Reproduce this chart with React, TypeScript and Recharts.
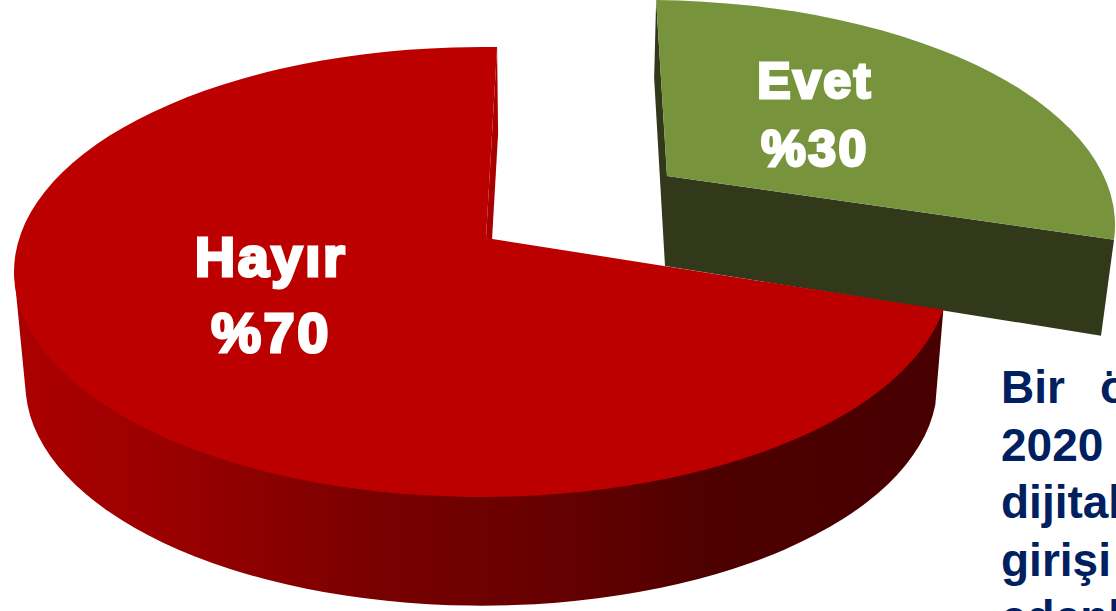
import React from "react";
import { PieChart, Pie, Cell } from "recharts";

// Data: Evet first so that Hayır's slice is painted on top of Evet's wall.
const categories = ["Evet", "Hayır"];
const percentages = [30, 70];
const percentLabels = ["%30", "%70"];
const faceColors = ["#77933C", "#BC0000"];
const noteLines = ["Bir", "2020", "dijital", "girişi", "edenl"];
const noteClippedWord = "ö";

const chartData = categories.map((name, i) => ({ name, value: percentages[i], pct: percentLabels[i] }));

// Projection of the circular pie onto the tilted plane
const WIDTH = 1116;
const HEIGHT = 611;
const CX = 482;
const CY = 272;
const R = 225;
const X_SCALE = 2.08;
const RX = R * X_SCALE;
const RY = R;

type Proj = {
  ox: number; oy: number; ax: number; ay: number;
  startFix: number; endFix: number;
  labelX: number; labelY1: number; labelY2: number; fontSize: number; spacing: number;
};

const PROJECTION: Record<string, Proj> = {
  "Hayır": { ox: 0, oy: 0, ax: 4, ay: -34, startFix: -1.6, endFix: -0.1, labelX: 271, labelY1: 276, labelY2: 352, fontSize: 56, spacing: 2.5 },
  "Evet": { ox: 165, oy: -47, ax: 185, ay: -96, startFix: 1.5, endFix: 1.7, labelX: 815, labelY1: 98, labelY2: 166, fontSize: 50, spacing: 2.5 },
};

function rim(p: Proj, deg: number) {
  const ex = CX + p.ox;
  const ey = CY + p.oy;
  const apx = (CX + p.ax - ex) / RX;
  const apy = (CY + p.ay - ey) / RY;
  const th = (deg * Math.PI) / 180;
  const dx = Math.cos(th);
  const dy = -Math.sin(th);
  const b = apx * dx + apy * dy;
  const c = apx * apx + apy * apy - 1;
  const t = -b + Math.sqrt(b * b - c);
  return { x: ex + (apx + t * dx) * RX, y: ey + (apy + t * dy) * RY };
}

function SliceShape(props: any) {
  const name = props.name ?? props.payload?.name;
  const p = PROJECTION[name];
  const a = { x: CX + p.ax, y: CY + p.ay };
  const s = rim(p, props.startAngle + p.startFix);
  const e = rim(p, props.endAngle + p.endFix);
  const large = Math.abs(props.endAngle - props.startAngle) > 180 ? 1 : 0;
  const face = `M${a.x},${a.y} L${s.x},${s.y} A${RX},${RY} 0 ${large} 0 ${e.x},${e.y} Z`;
  if (name === "Hayır") {
    const wall = `M${CX - RX},${CY} L${CX - RX + 12},${CY + 123} A456,222 0 0 0 ${e.x - 8},${e.y + 95} L${e.x},${e.y} Z`;
    const sliver = `M${s.x},${s.y} L${s.x + 1},${s.y + 87} L${a.x + 6},${a.y + 2} L${a.x},${a.y} Z`;
    return (
      <g>
        <path d={wall} fill="url(#redWall)" />
        <path d={sliver} fill="#A80000" />
        <path d={face} fill={props.fill} />
      </g>
    );
  }
  // Evet runs from the right-hand cut (s) round to the top-left cut (e)
  const wall = `M${e.x},${e.y} L${e.x - 2},${e.y + 78} L${a.x - 2},${a.y + 90} L${s.x - 13},${s.y + 96} L${s.x},${s.y} L${a.x},${a.y} Z`;
  return (
    <g>
      <path d={wall} fill="#31391A" />
      <path d={face} fill={props.fill} />
    </g>
  );
}

function SliceLabel(props: any) {
  const name = props.name ?? props.payload?.name;
  const p = PROJECTION[name];
  const pct = props.pct ?? props.payload?.pct;
  const common = {
    textAnchor: "middle" as const,
    fill: "#FFFFFF",
    stroke: "#FFFFFF",
    strokeWidth: 3,
    fontFamily: "'Liberation Sans', Arial, sans-serif",
    fontWeight: 700,
    fontSize: p.fontSize,
    letterSpacing: p.spacing,
  };
  return (
    <g>
      <text x={p.labelX} y={p.labelY1} {...common}>{name}</text>
      <text x={p.labelX} y={p.labelY2} {...common}>{pct}</text>
    </g>
  );
}

const NOTE_X = 1001;
const NOTE_FIRST_BASELINE = 403;
const NOTE_LINE_STEP = 57.5;

export default function App() {
  return (
    <div style={{ position: "absolute", left: 0, top: 0, width: WIDTH, height: HEIGHT, overflow: "hidden", background: "#FFFFFF" }}>
      <PieChart width={WIDTH} height={HEIGHT} margin={{ top: 0, right: 0, bottom: 0, left: 0 }}>
        <defs>
          <linearGradient id="redWall" gradientUnits="userSpaceOnUse" x1="14" y1="0" x2="943" y2="0">
            <stop offset="0" stopColor="#AC0000" />
            <stop offset="0.18" stopColor="#980000" />
            <stop offset="0.4" stopColor="#780000" />
            <stop offset="0.58" stopColor="#660000" />
            <stop offset="0.75" stopColor="#4E0000" />
            <stop offset="1" stopColor="#480000" />
          </linearGradient>
        </defs>
        <Pie
          data={chartData}
          dataKey="value"
          nameKey="name"
          cx={CX}
          cy={CY}
          outerRadius={R}
          startAngle={-18}
          endAngle={342}
          stroke="none"
          isAnimationActive={false}
          shape={SliceShape}
          label={SliceLabel}
          labelLine={false}
        >
          {chartData.map((d, i) => (
            <Cell key={d.name} fill={faceColors[i]} />
          ))}
        </Pie>
        <g fontFamily="'Liberation Sans', Arial, sans-serif" fontWeight={700} fontSize={46} fill="#002060">
          {noteLines.map((line, i) => (
            <text key={line} x={NOTE_X} y={NOTE_FIRST_BASELINE + i * NOTE_LINE_STEP}>{line}</text>
          ))}
          <text x={1100} y={NOTE_FIRST_BASELINE}>{noteClippedWord}</text>
        </g>
      </PieChart>
    </div>
  );
}
